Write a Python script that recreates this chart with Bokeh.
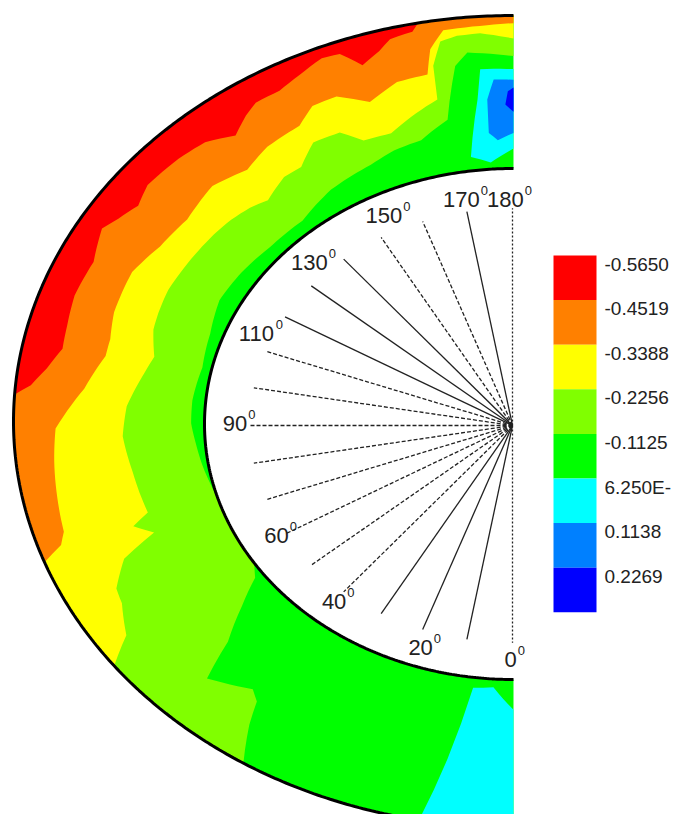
import numpy as np
from bokeh.plotting import figure
from bokeh.models import Range1d
from bokeh.embed import file_html
from bokeh.resources import INLINE
from bokeh.core.properties import value

# ---------------- data ----------------
levels = [-0.5650, -0.4519, -0.3388, -0.2256, -0.1125, 0.00625, 0.1138, 0.2269]
level_labels = ["-0.5650", "-0.4519", "-0.3388", "-0.2256", "-0.1125", "6.250E-", "0.1138", "0.2269"]
band_colors = ["#ff0000", "#ff8000", "#ffff00", "#80ff00", "#00ff00", "#00ffff", "#0080ff", "#0000ff"]

# iso-line positions: angle (deg, 0 = bottom, 180 = top) and relative depth s (0 inner wall, 1 outer wall)
lawn_theta = [32.7, 35.4, 36.9, 38.6, 44.3, 46.9, 50.7, 54.2, 57.0, 72.0, 75.7, 80.4, 85.7, 90.1, 95.1,
              102.4, 109.8, 117.0, 124.0, 131.2, 139.4, 147.3, 155.6, 160.2, 165.0, 169.9, 172.4, 174.2, 180.0, 180.0]
lawn_s = [1.0, 0.77, 0.62, 0.57, 0.68, 0.43, 0.22, 0.05, 0.0, 0.0, 0.01, 0.03, 0.05, 0.07, 0.07,
          0.05, 0.07, 0.11, 0.10, 0.08, 0.08, 0.15, 0.19, 0.23, 0.25, 0.35, 0.69, 0.77, 0.735, 1.0]

yellow_theta = [53.0, 55.9, 60.4, 62.8, 66.8, 69.6, 71.6, 73.4, 81.0, 87.6, 93.0, 99.5, 102.7, 107.6, 110.7,
                115.2, 121.0, 127.5, 131.3, 134.9, 137.9, 142.6, 145.8, 149.7, 153.9, 156.5, 160.9, 164.6,
                169.1, 169.6, 171.1, 173.2, 176.0, 180.0, 180.0]
yellow_s = [1.0, 0.83, 0.74, 0.72, 0.60, 0.39, 0.48, 0.38, 0.40, 0.43, 0.41, 0.34, 0.31, 0.36, 0.37,
            0.38, 0.37, 0.36, 0.35, 0.33, 0.30, 0.36, 0.36, 0.46, 0.45, 0.35, 0.34, 0.41,
            0.49, 0.71, 0.86, 0.885, 0.89, 0.85, 1.0]

orange_theta = [69.7, 71.5, 73.3, 78.4, 84.0, 89.0, 95.5, 101.3, 104.2, 108.7, 115.8, 121.4, 127.3, 133.9,
                139.3, 143.9, 149.5, 152.6, 156.1, 159.9, 164.4, 168.6, 169.7, 171.7, 176.9, 180.0, 180.0]
orange_s = [1.0, 0.88, 0.84, 0.82, 0.80, 0.78, 0.64, 0.56, 0.56, 0.59, 0.60, 0.55, 0.53, 0.57,
            0.52, 0.57, 0.59, 0.67, 0.67, 0.57, 0.65, 0.66, 0.82, 0.93, 0.94, 0.95, 1.0]

red_theta = [93.8, 95.3, 98.0, 101.3, 104.9, 109.5, 115.1, 120.0, 122.3, 125.3, 128.5, 134.0, 138.1,
             141.7, 144.6, 146.7, 150.1, 153.3, 156.8, 159.0, 161.0, 163.6, 165.3, 168.1, 169.0]
red_s = [1.0, 0.92, 0.85, 0.79, 0.80, 0.82, 0.81, 0.87, 0.83, 0.79, 0.83, 0.82, 0.80,
         0.73, 0.80, 0.84, 0.84, 0.88, 0.93, 0.92, 0.81, 0.87, 0.93, 0.95, 1.0]

cyan_top_theta = [180.0, 175.6, 174.8, 172.5, 175.9, 180.0]
cyan_top_s = [0.65, 0.656, 0.46, 0.09, 0.044, 0.13]
blue_top_theta = [180.0, 177.3, 176.2, 176.0, 177.4, 180.0]
blue_top_s = [0.58, 0.585, 0.455, 0.236, 0.187, 0.232]
dark_top_theta = [180.0, 179.2, 178.8, 180.0]
dark_top_s = [0.53, 0.505, 0.418, 0.371]
cyan_bot_theta = [7.2, 3.6, 0.0, 0.0, 10.9, 9.1]
cyan_bot_s = [0.07, 0.056, 0.205, 1.0, 1.0, 0.565]

ray_angles = list(range(0, 181, 10))
ray_styles = ["dot", "solid", "solid", "solid", "dash", "dash", "dash", "dash", "dash", "dash",
              "dash", "dash", "solid", "solid", "solid", "dash", "dash", "solid", "dot"]
label_angles = [0, 20, 40, 60, 90, 110, 130, 150, 170, 180]

# ---------------- geometry (layout) ----------------
IN_C = (513.0, 423.5); IN_AX, IN_BY = 309.0, 255.5
OUT_C = (513.0, 421.0); OUT_AX, OUT_BY = 500.0, 406.0
RC = (512.0, 425.0)


def pt(theta, s):
    t = np.radians(np.asarray(theta, dtype=float))
    s = np.asarray(s, dtype=float)
    xi = IN_C[0] - IN_AX * np.sin(t); yi = IN_C[1] + IN_BY * np.cos(t)
    xo = OUT_C[0] - OUT_AX * np.sin(t); yo = OUT_C[1] + OUT_BY * np.cos(t)
    return xi + s * (xo - xi), -(yi + s * (yo - yi))


def region(theta, s, step=1.0):
    th, ss = [], []
    n = len(theta)
    for i in range(n):
        a0, s0 = theta[i], s[i]
        a1, s1 = theta[(i + 1) % n], s[(i + 1) % n]
        k = max(1, int(abs(a1 - a0) / step) + 1)
        for j in range(k):
            f = j / k
            th.append(a0 + (a1 - a0) * f)
            ss.append(s0 + (s1 - s0) * f)
    x, y = pt(th, ss)
    return list(x), list(y)


p = figure(width=673, height=814, x_range=Range1d(0, 673), y_range=Range1d(-814, 0),
           output_backend="svg", toolbar_location=None, min_border=0)
p.axis.visible = False
p.grid.visible = False
p.outline_line_color = None
p.background_fill_color = "white"

xs, ys, cs = [], [], []
for th, ss, c in [([0.0, 180.0, 180.0, 0.0], [0.0, 0.0, 1.0, 1.0], band_colors[4]),
                  (lawn_theta, lawn_s, band_colors[3]),
                  (yellow_theta, yellow_s, band_colors[2]),
                  (orange_theta, orange_s, band_colors[1]),
                  (red_theta, red_s, band_colors[0]),
                  (cyan_bot_theta, cyan_bot_s, band_colors[5]),
                  (cyan_top_theta, cyan_top_s, band_colors[5]),
                  (blue_top_theta, blue_top_s, band_colors[6]),
                  (dark_top_theta, dark_top_s, band_colors[7])]:
    x, y = region(th, ss)
    xs.append(x); ys.append(y); cs.append(c)
p.patches(xs, ys, fill_color=cs, line_color=None)

# walls
arc = np.linspace(0, 180, 361)
for sv in (0.0, 1.0):
    ax_, ay_ = pt(arc, np.full_like(arc, sv))
    p.line(ax_, ay_, line_color="black", line_width=3)

# rays
for style, dash in [("solid", "solid"), ("dash", "4 2"), ("dot", "2 2")]:
    mx, my = [], []
    for a, st in zip(ray_angles, ray_styles):
        if st != style:
            continue
        t = np.radians(a)
        f = 0.85
        mx.append([RC[0], RC[0] - f * IN_AX * np.sin(t)])
        my.append([-RC[1], -(RC[1] + f * IN_BY * np.cos(t))])
    p.multi_line(mx, my, line_color="#222222", line_width=1.3, line_dash=dash)

# angle labels
place_deg = [0.4, 18.9, 39.9, 60.6, 90.4, 113.5, 134.2, 153.2, 169.4, 178.5]
place_frac = [0.916, 0.918, 0.90, 0.877, 0.898, 0.904, 0.917, 0.923, 0.898, 0.883]
lx = [RC[0] - f * IN_AX * np.sin(np.radians(d)) for d, f in zip(place_deg, place_frac)]
ly = [-(RC[1] + f * IN_BY * np.cos(np.radians(d))) for d, f in zip(place_deg, place_frac)]
ltxt = [str(a) for a in label_angles]
p.text(lx, ly, text=ltxt, text_font=value("Liberation Sans"), text_font_size="22px",
       text_align="center", text_baseline="middle", text_color="#222222")
sup_off = [0.556 * 22 * len(t) / 2 + 1 for t in ltxt]
p.text(lx, ly, text=["0"] * len(ltxt), x_offset=sup_off, y_offset=-9,
       text_font=value("Liberation Sans"), text_font_size="13px",
       text_align="left", text_baseline="middle", text_color="#222222")

# colour legend
BH = 44.6
tops = [-(255 + i * BH) for i in range(len(levels))]
bots = [-(255 + (i + 1) * BH) for i in range(len(levels))]
p.quad(left=553, right=596, top=tops, bottom=bots, fill_color=band_colors, line_color=None)
p.text([604] * len(levels), [t - 8.5 for t in tops], text=level_labels,
       text_font=value("Liberation Sans"), text_font_size="19px",
       text_align="left", text_baseline="middle", text_color="#222222")

open("out.html", "w").write(file_html(p, INLINE))
